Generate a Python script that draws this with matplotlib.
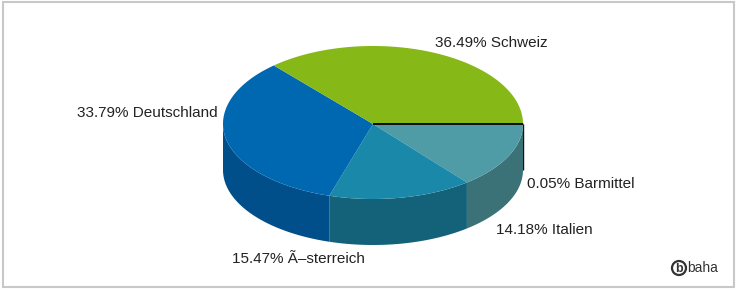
import numpy as np
import matplotlib
matplotlib.use('Agg')
import matplotlib.pyplot as plt
from matplotlib.patches import Polygon, Rectangle, Circle

plt.rcParams['font.family'] = ['Liberation Sans', 'DejaVu Sans']

# data, in drawing order (clockwise from the right)
names = ['Barmittel', 'Italien', 'Ã–sterreich', 'Deutschland', 'Schweiz']
shares = [0.05, 14.18, 15.47, 33.79, 36.49]
top_colors = ['#111111', '#4f9ba6', '#1a89a9', '#0067b1', '#86b817']
side_colors = ['#111111', '#3b7277', '#14617a', '#004f8a', '#628a10']

# label placement (pixels), alignment
label_pos = [(527, 184, 'left'), (496, 230, 'left'), (232, 259, 'left'),
             (218, 113, 'right'), (435, 43, 'left')]

cx, cy, rx, depth = 373, 124, 150, 46
ry_back, ry_front = 78, 75

fig = plt.figure(figsize=(7.37, 2.89), dpi=100)
ax = fig.add_axes([0, 0, 1, 1])
ax.set_xlim(0, 737)
ax.set_ylim(289, 0)
ax.axis('off')

ax.add_patch(Rectangle((3, 1.5), 731, 285, fill=False, edgecolor='#c8c8c8', lw=1.5))

shares_a = np.array(shares)
ends = np.cumsum(shares_a) / shares_a.sum() * 2 * np.pi
starts = np.concatenate([[0], ends[:-1]])

def rim(t):
    s = np.sin(t)
    return cx + rx * np.cos(t), cy + np.where(s > 0, ry_front, ry_back) * s

# sides (front half only)
for a, b, c, n in zip(starts, ends, side_colors, names):
    lo, hi = max(a, 0), min(b, np.pi)
    if hi <= lo:
        continue
    t = np.linspace(lo, hi, 80)
    x, y = rim(t)
    pts = np.column_stack([np.concatenate([x, x[::-1]]),
                           np.concatenate([y, y[::-1] + depth])])
    lw = 1 if n == 'Barmittel' else 0
    ax.add_patch(Polygon(pts, closed=True, facecolor=c, edgecolor=c, lw=lw))

# tops
for a, b, c, n in zip(starts, ends, top_colors, names):
    t = np.linspace(a, b, max(int((b - a) * 60), 3))
    x, y = rim(t)
    pts = np.column_stack([np.concatenate([[cx], x]), np.concatenate([[cy], y])])
    if n == 'Barmittel':
        ax.add_patch(Polygon(pts, closed=True, facecolor=c, edgecolor=c, lw=1, zorder=3))
    else:
        ax.add_patch(Polygon(pts, closed=True, facecolor=c, edgecolor='none', zorder=2))

for n, s, (lx, ly, ha) in zip(names, shares, label_pos):
    ax.text(lx, ly, f'{s:.2f}% {n}', ha=ha, va='center', fontsize=11, color='#222222')

# logo
ax.add_patch(Circle((679, 268), 7, fill=False, edgecolor='#333333', lw=1.6))
ax.text(679, 268.5, 'b', ha='center', va='center', fontsize=9, fontweight='bold', color='#333333')
ax.text(687, 268, 'baha', ha='left', va='center', fontsize=10, color='#333333')

fig.savefig('out.png', dpi=100)
